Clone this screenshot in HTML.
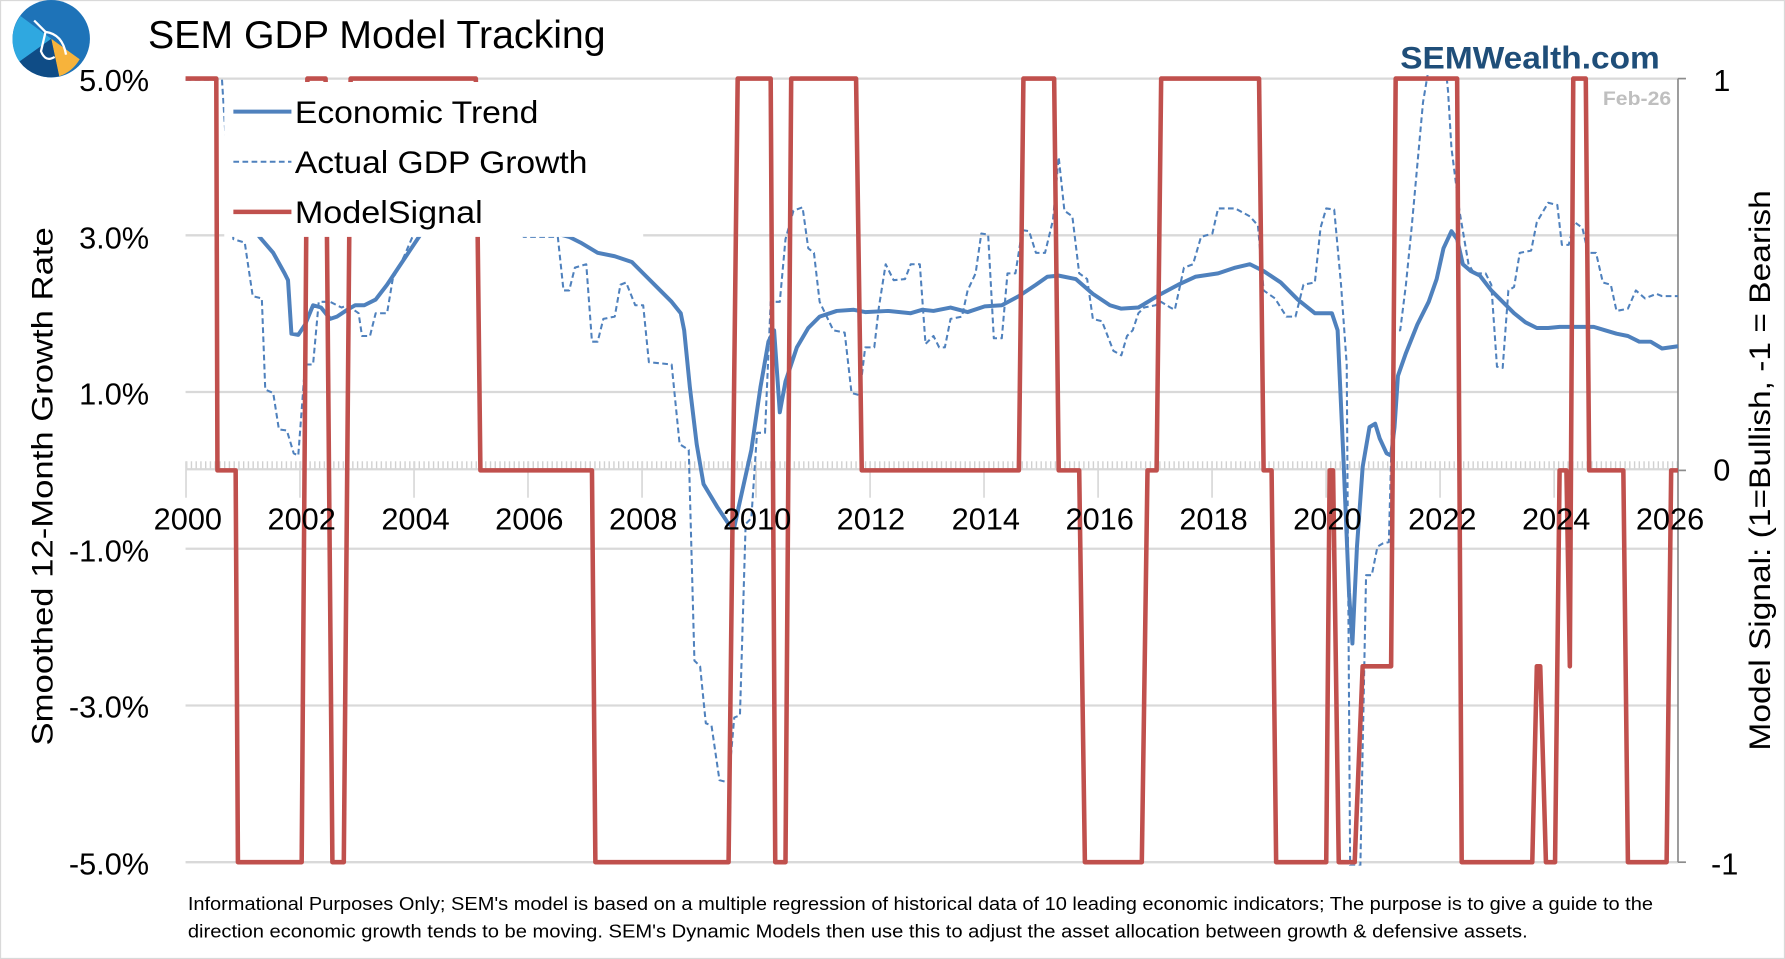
<!DOCTYPE html>
<html><head><meta charset="utf-8"><style>
html,body{margin:0;padding:0;background:#fff;}
svg{display:block;}
text{font-family:"Liberation Sans Narrow","Liberation Sans",sans-serif;}
</style></head><body>
<svg width="1785" height="959" viewBox="0 0 1568 842" preserveAspectRatio="none" xmlns="http://www.w3.org/2000/svg">
<defs>
<clipPath id="pc"><rect x="160" y="66" width="1316" height="694"/></clipPath>
<pattern id="mt" x="163.4" y="0" width="4.17" height="842" patternUnits="userSpaceOnUse">
<rect x="0" y="0" width="1.2" height="842" fill="#d0d0d0"/></pattern>
</defs>
<rect x="0.5" y="0.5" width="1567" height="841" fill="#fff" stroke="#d9d9d9"/>
<!-- logo -->
<circle cx="45" cy="34" r="34" fill="#1e73b8"/>
<path d="M45 34 L70 52 A34 34 0 0 1 52 67 Z" fill="#f7b33b"/>
<path d="M45 34 L52 67 A34 34 0 0 1 17 54 Z" fill="#0f4c86"/>
<path d="M45 34 L17 54 A34 34 0 0 1 18 14 Z" fill="#2fa8e0"/>
<path d="M30 18 L40 28 L36 45 Q40 55 48 50 M40 28 Q55 30 58 48" stroke="#fff" stroke-width="2" fill="none"/>
<text x="130" y="42" font-size="34" font-family="Liberation Sans" textLength="402" lengthAdjust="spacingAndGlyphs">SEM GDP Model Tracking</text>
<text x="1230" y="60" font-size="28" font-weight="bold" fill="#1f4e79" textLength="228" lengthAdjust="spacingAndGlyphs">SEMWealth.com</text>
<text x="1408" y="92" font-size="17" font-weight="bold" fill="#bfbfbf" textLength="60" lengthAdjust="spacingAndGlyphs">Feb-26</text>
<!-- grid -->
<g stroke="#d9d9d9" stroke-width="2">
<line x1="163" y1="69" x2="1474" y2="69"/>
<line x1="163" y1="206.6" x2="1474" y2="206.6"/>
<line x1="163" y1="344.2" x2="1474" y2="344.2"/>
<line x1="163" y1="481.8" x2="1474" y2="481.8"/>
<line x1="163" y1="619.4" x2="1474" y2="619.4"/>
<line x1="163" y1="757" x2="1474" y2="757"/>
</g>
<rect x="163" y="405" width="1311" height="7" fill="url(#mt)"/>
<line x1="163" y1="412" x2="1474" y2="412" stroke="#d9d9d9" stroke-width="2"/>
<g stroke="#d9d9d9" stroke-width="1.5">
<line x1="163.4" y1="405" x2="163.4" y2="437"/><line x1="263.5" y1="405" x2="263.5" y2="437"/><line x1="363.7" y1="405" x2="363.7" y2="437"/><line x1="463.8" y1="405" x2="463.8" y2="437"/><line x1="564" y1="405" x2="564" y2="437"/><line x1="664.1" y1="405" x2="664.1" y2="437"/><line x1="764.3" y1="405" x2="764.3" y2="437"/><line x1="864.4" y1="405" x2="864.4" y2="437"/><line x1="964.6" y1="405" x2="964.6" y2="437"/><line x1="1064.7" y1="405" x2="1064.7" y2="437"/><line x1="1164.9" y1="405" x2="1164.9" y2="437"/><line x1="1265" y1="405" x2="1265" y2="437"/><line x1="1365.2" y1="405" x2="1365.2" y2="437"/>
</g>
<line x1="1474" y1="69" x2="1474" y2="757" stroke="#8c8c8c" stroke-width="1.5"/>
<g stroke="#8c8c8c" stroke-width="1.5"><line x1="1474" y1="69" x2="1481" y2="69"/><line x1="1474" y1="413" x2="1481" y2="413"/><line x1="1474" y1="757" x2="1481" y2="757"/></g>
<!-- series -->
<g clip-path="url(#pc)" fill="none" stroke-linejoin="round">
<polyline stroke="#4f81bd" stroke-width="1.8" stroke-dasharray="5,3" points="163,70 195,70 200,150 205,210 215,213 222,260 230,262 233,342 240,345 245,377 252,378 258,398 262,400 268,320 275,320 280,265 290,265 300,270 305,268 315,275 318,295 325,295 330,275 340,275 345,245 355,225 370,190 400,150 430,150 460,208 490,208 495,255 500,255 505,235 515,232 520,300 525,300 530,280 540,278 545,250 550,248 558,268 565,268 570,318 590,320 597,390 605,395 610,580 615,585 620,635 625,637 632,685 640,687 645,630 650,628 655,460 660,455 665,380 672,380 677,265 685,265 690,210 697,185 705,182 710,218 715,222 720,265 732,290 742,292 748,345 755,347 760,305 768,305 772,270 778,232 785,246 795,245 800,232 808,232 813,302 820,295 825,305 830,305 835,280 845,278 850,255 857,240 862,205 868,206 873,297 880,297 885,240 892,240 898,202 904,203 910,222 918,222 925,193 930,138 935,185 942,190 948,240 955,245 960,280 968,282 978,308 985,312 990,295 995,290 1000,275 1005,270 1015,268 1020,265 1028,270 1032,272 1040,235 1048,232 1055,208 1065,205 1070,183 1085,183 1098,190 1105,198 1110,255 1120,262 1130,278 1138,278 1145,250 1155,248 1160,200 1165,183 1172,184 1178,250 1183,320 1186,760 1195,760 1200,505 1205,505 1210,480 1215,477 1220,476 1225,290 1230,290 1235,250 1240,200 1245,145 1250,90 1255,60 1270,60 1272,80 1275,130 1282,185 1290,232 1295,240 1305,240 1310,250 1315,322 1320,323 1325,255 1330,252 1335,222 1345,220 1350,195 1360,178 1368,180 1372,215 1378,215 1383,195 1390,200 1395,222 1402,222 1408,248 1415,250 1420,273 1430,271 1437,255 1445,262 1455,258 1460,260 1474,260"/>
<polyline stroke="#4f81bd" stroke-width="3.5" points="200,170 228,208 240,222 250,240 253,246 256,293 262,294 268,285 275,268 282,270 290,280 296,278 305,272 312,268 320,268 330,263 340,250 350,235 360,220 370,205 400,160 440,170 470,200 500,208 510,213 525,222 540,225 555,230 565,240 580,255 590,265 598,275 601,290 606,340 612,390 618,425 630,445 640,460 645,463 650,440 660,395 668,340 675,300 680,290 685,362 690,335 700,305 710,288 720,278 735,273 750,272 760,274 780,273 800,275 810,272 820,273 835,270 850,274 865,269 880,268 895,260 910,250 920,243 930,242 945,245 960,258 975,268 985,271 1000,270 1010,264 1020,258 1035,250 1050,243 1070,240 1085,235 1098,232 1110,238 1125,248 1140,263 1155,275 1170,275 1175,290 1180,400 1185,520 1188,565 1192,480 1197,410 1203,375 1208,372 1212,385 1218,398 1222,400 1225,375 1228,330 1235,310 1245,285 1255,265 1262,245 1268,218 1275,203 1280,210 1285,232 1292,238 1300,242 1310,255 1320,265 1330,275 1340,283 1350,288 1360,288 1370,287 1380,287 1390,287 1400,287 1410,290 1420,293 1430,295 1440,300 1450,300 1460,306 1474,304"/>
<polyline stroke="#c0504d" stroke-width="4" points="163,69 190,69 191,413 207,413 209,757 265,757 270,69 286,69 292,757 302,757 308,69 418,69 422,413 520,413 523,757 640,757 648,69 677,69 681,757 690,757 695,69 752,69 757,413 895,413 899,69 926,69 930,413 948,413 953,757 1003,757 1008,413 1016,413 1020,69 1106,69 1110,413 1117,413 1121,757 1165,757 1168,413 1171,413 1176,757 1190,757 1197,585 1222,585 1226,69 1280,69 1284,757 1346,757 1350,585 1353,585 1358,757 1366,757 1370,413 1376,413 1379,585 1382,69 1393,69 1396,413 1426,413 1430,757 1464,757 1468,413 1474,413"/>
</g>
<!-- legend -->
<rect x="197" y="72" width="368" height="136" fill="#fff"/>
<line x1="205" y1="98" x2="256" y2="98" stroke="#4f81bd" stroke-width="3.5"/>
<line x1="205" y1="142" x2="256" y2="142" stroke="#4f81bd" stroke-width="1.8" stroke-dasharray="5,3"/>
<line x1="205" y1="186" x2="256" y2="186" stroke="#c0504d" stroke-width="4"/>
<g font-size="28" font-family="Liberation Sans">
<text x="259" y="108" textLength="214" lengthAdjust="spacingAndGlyphs">Economic Trend</text>
<text x="259" y="152" textLength="257" lengthAdjust="spacingAndGlyphs">Actual GDP Growth</text>
<text x="259" y="196" textLength="165" lengthAdjust="spacingAndGlyphs">ModelSignal</text>
</g>
<!-- axis labels -->
<g font-size="27" font-family="Liberation Sans" text-anchor="end">
<text x="131" y="80">5.0%</text><text x="131" y="218">3.0%</text><text x="131" y="355">1.0%</text>
<text x="131" y="493">-1.0%</text><text x="131" y="630">-3.0%</text><text x="131" y="768">-5.0%</text>
</g>
<g font-size="27" font-family="Liberation Sans" text-anchor="middle">
<text x="165" y="465">2000</text><text x="265" y="465">2002</text><text x="365" y="465">2004</text><text x="465" y="465">2006</text><text x="565" y="465">2008</text><text x="665" y="465">2010</text><text x="765" y="465">2012</text><text x="866" y="465">2014</text><text x="966" y="465">2016</text><text x="1066" y="465">2018</text><text x="1166" y="465">2020</text><text x="1267" y="465">2022</text><text x="1367" y="465">2024</text><text x="1467" y="465">2026</text>
</g>
<g font-size="27" font-family="Liberation Sans">
<text x="1505" y="80">1</text><text x="1505" y="422">0</text><text x="1503" y="768">-1</text>
</g>
<text transform="translate(46,427) rotate(-90)" font-size="26" font-family="Liberation Sans" text-anchor="middle" textLength="455" lengthAdjust="spacingAndGlyphs">Smoothed 12-Month Growth Rate</text>
<text transform="translate(1555,413) rotate(-90)" font-size="26" font-family="Liberation Sans" text-anchor="middle" textLength="492" lengthAdjust="spacingAndGlyphs">Model Signal: (1=Bullish, -1 = Bearish</text>
<g font-size="16.5">
<text x="165" y="799" textLength="1287" lengthAdjust="spacingAndGlyphs">Informational Purposes Only; SEM's model is based on a multiple regression of historical data of 10 leading economic indicators; The purpose is to give a guide to the</text>
<text x="165" y="823" textLength="1177" lengthAdjust="spacingAndGlyphs">direction economic growth tends to be moving. SEM's Dynamic Models then use this to adjust the asset allocation between growth &amp; defensive assets.</text>
</g>
</svg>
</body></html>
